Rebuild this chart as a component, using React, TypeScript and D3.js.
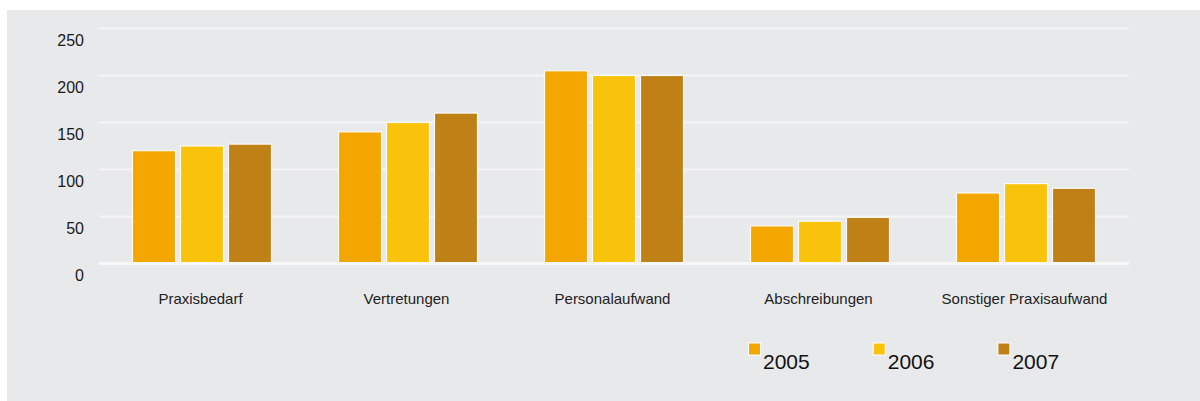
import React from "react";
import * as d3 from "d3";

const categories = ["Praxisbedarf", "Vertretungen", "Personalaufwand", "Abschreibungen", "Sonstiger Praxisaufwand"];
const seriesNames = ["2005", "2006", "2007"];
const values2005 = [120, 140, 205, 40, 75];
const values2006 = [125, 150, 200, 45, 85];
const values2007 = [127, 160, 200, 49, 80];
const seriesValues = [values2005, values2006, values2007];
const colors = ["#f3a500", "#fac30b", "#bf8116"];
const yTicks = [0, 50, 100, 150, 200, 250];

export default function App() {
  const W = 1200;
  const H = 401;
  const left = 99;
  const right = 1129;
  const y = d3.scaleLinear().domain([0, 250]).range([263.5, 28.5]);
  const x0 = d3.scaleBand<string>().domain(categories).range([left, right]).padding(0);
  const bw = x0.bandwidth();
  const groupW = 139;
  const x1 = d3
    .scaleBand<string>()
    .domain(seriesNames)
    .range([(bw - groupW) / 2, (bw + groupW) / 2])
    .paddingInner(5 / 48)
    .paddingOuter(0);
  const font = "'Liberation Sans', Arial, Helvetica, sans-serif";
  const legendX = d3.scaleLinear().domain([0, 1]).range([748, 872.7]);

  return (
    <svg
      width={W}
      height={H}
      style={{ position: "absolute", left: 0, top: 0, display: "block" }}
      fontFamily={font}
    >
      <rect x={7} y={10} width={W - 7} height={H - 10} fill="#e8e9eb" />
      {yTicks
        .filter((t) => t > 0)
        .map((t) => (
          <line key={t} x1={left} x2={right} y1={y(t)} y2={y(t)} stroke="#f6f6f7" strokeWidth={2} />
        ))}
      {yTicks.map((t) => (
        <text key={"l" + t} x={84} y={y(t) + 17.5} textAnchor="end" fontSize={16} fill="#1a1a1a">
          {t}
        </text>
      ))}
      {categories.map((c, ci) => (
        <g key={c} transform={`translate(${x0(c)},0)`}>
          {seriesNames.map((s, si) => {
            const v = seriesValues[si][ci];
            return (
              <rect
                key={s}
                x={x1(s)!}
                y={y(v)}
                width={x1.bandwidth()}
                height={y(0) - y(v)}
                fill={colors[si]}
                stroke="#ffffff"
                strokeWidth={1.2}
                strokeOpacity={0.9}
              />
            );
          })}
          <text x={bw / 2 - 1.5} y={303.5} textAnchor="middle" fontSize={15} fill="#222">
            {c}
          </text>
        </g>
      ))}
      <line x1={left} x2={right} y1={y(0)} y2={y(0)} stroke="#f8f8f8" strokeWidth={3} />
      {seriesNames.map((s, si) => (
        <g key={"lg" + s} transform={`translate(${legendX(si)},0)`}>
          <rect x={0.5} y={343} width={12} height={12} fill={colors[si]} stroke="#ffffff" strokeWidth={1} />
          <text x={15} y={369} fontSize={21} fill="#111">
            {s}
          </text>
        </g>
      ))}
    </svg>
  );
}
